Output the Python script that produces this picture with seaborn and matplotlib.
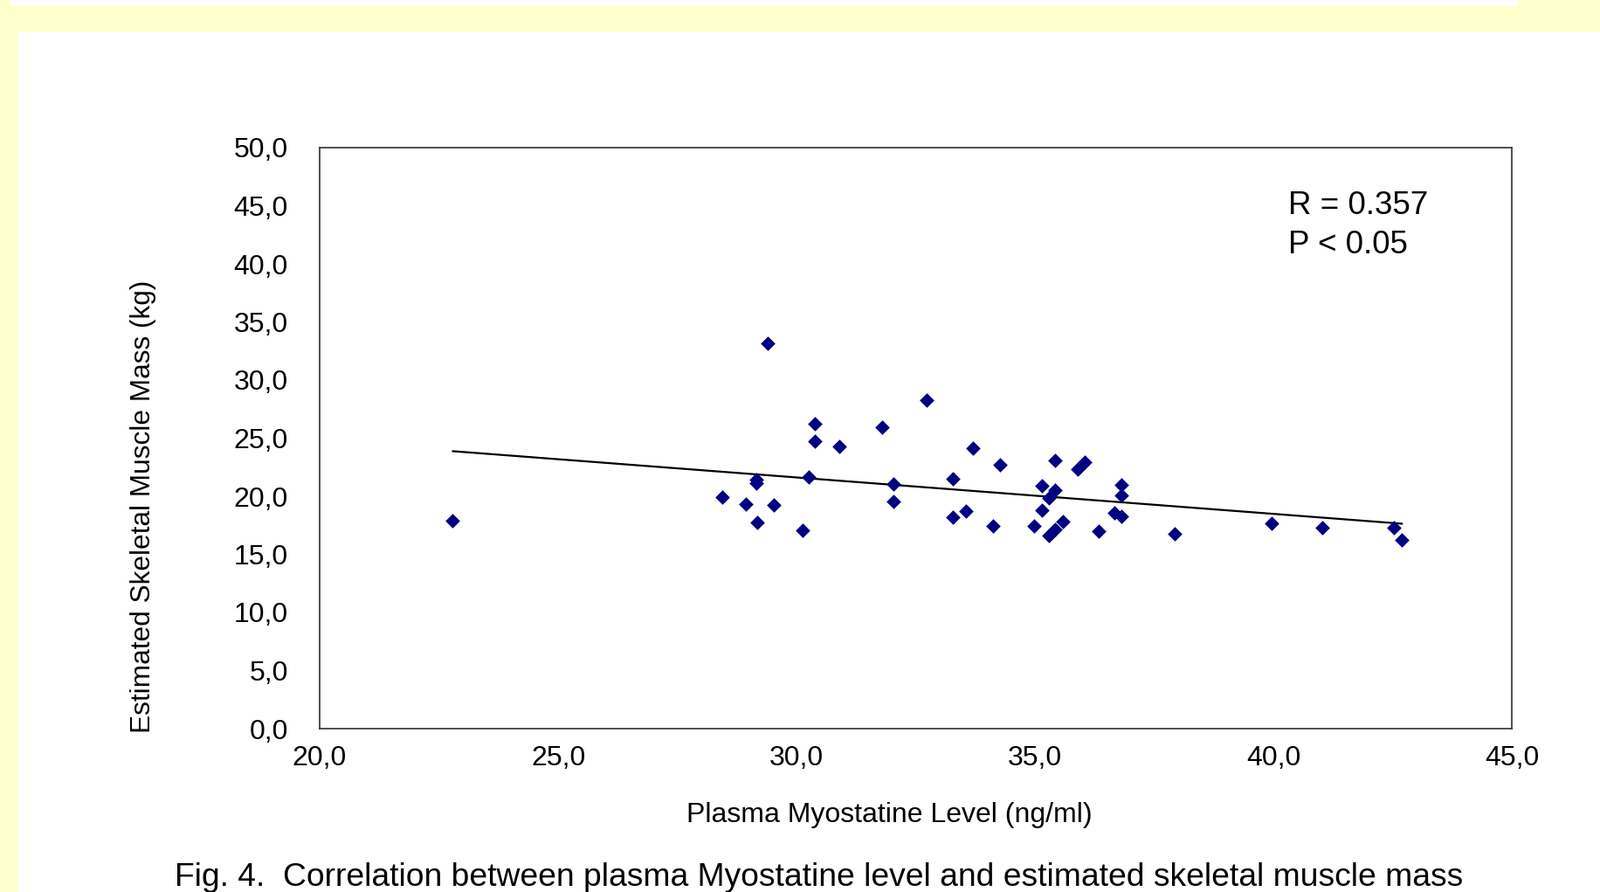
import numpy as np
import pandas as pd
import matplotlib.pyplot as plt
import seaborn as sns
from matplotlib.patches import Rectangle

# values
myostatin = [22.79, 28.45, 28.93, 29.16, 29.16, 29.17, 29.40, 29.52, 30.13, 30.26,
             30.38, 30.38, 30.89, 31.79, 32.04, 32.04, 32.73, 33.28, 33.28, 33.56,
             33.70, 34.12, 34.26, 34.99, 35.14, 35.14, 35.29, 35.29, 35.43, 35.43,
             35.43, 35.59, 35.89, 36.04, 36.34, 36.66, 36.82, 36.82, 36.82, 37.93,
             39.96, 41.03, 42.52, 42.70]
muscle_mass = [17.90, 19.90, 19.30, 21.45, 21.10, 17.75, 33.13, 19.28, 17.04, 21.67,
               26.24, 24.74, 24.31, 25.92, 21.04, 19.52, 28.30, 21.48, 18.22, 18.72,
               24.11, 17.42, 22.73, 17.45, 20.88, 18.77, 19.88, 16.62, 23.08, 20.50,
               17.18, 17.84, 22.32, 22.94, 16.96, 18.60, 21.00, 20.10, 18.29, 16.79,
               17.65, 17.29, 17.29, 16.22]

x_ticks = [20, 25, 30, 35, 40, 45]
x_tick_labels = ['20,0', '25,0', '30,0', '35,0', '40,0', '45,0']
y_ticks = [0, 5, 10, 15, 20, 25, 30, 35, 40, 45, 50]
y_tick_labels = ['0,0', '5,0', '10,0', '15,0', '20,0', '25,0', '30,0', '35,0',
                 '40,0', '45,0', '50,0']

stats_lines = ['R = 0.357', 'P < 0.05']
caption = 'Fig. 4.  Correlation between plasma Myostatine level and estimated skeletal muscle mass'

df = pd.DataFrame({'myostatin': myostatin, 'muscle': muscle_mass})

sns.set_style('white')
plt.rcParams['font.family'] = ['Liberation Sans', 'DejaVu Sans']

W, H = 1832, 1021
fig = plt.figure(figsize=(W / 100, H / 100), dpi=100, facecolor='white')

# yellow slide frame
yellow = '#FFFFCC'
fig.patches.append(Rectangle((0, H - 35), W, 35, transform=None, color=yellow, zorder=0))
fig.patches.append(Rectangle((0, 0), 19, H, transform=None, color=yellow, zorder=0))
fig.patches.append(Rectangle((12, H - 6), 1725, 6, transform=None, color='white', zorder=1))

ax = fig.add_axes([366 / W, (H - 834) / H, (1731 - 366) / W, (834 - 169) / H])

sns.regplot(data=df, x='myostatin', y='muscle', ax=ax, ci=None, truncate=True,
            marker='D',
            scatter_kws={'s': 72, 'color': '#000080', 'linewidths': 0, 'alpha': 1, 'zorder': 3},
            line_kws={'color': 'black', 'linewidth': 1.6, 'zorder': 2})

ax.set_xlim(20, 45)
ax.set_ylim(0, 50)
ax.set_xticks(x_ticks)
ax.set_xticklabels(x_tick_labels)
ax.set_yticks(y_ticks)
ax.set_yticklabels(y_tick_labels)
ax.tick_params(axis='both', direction='in', length=6, width=1, color='#404040',
               labelsize=23, labelcolor='black')
ax.tick_params(axis='x', pad=14)
ax.tick_params(axis='y', pad=26)
ax.tick_params(top=False, right=False)
for sp in ax.spines.values():
    sp.set_color('#404040')
    sp.set_linewidth(1.3)

ax.set_xlabel('Plasma Myostatine Level (ng/ml)', fontsize=23, color='black')
ax.xaxis.set_label_coords(0.478, -0.126)
ax.set_ylabel('Estimated Skeletal Muscle Mass (kg)', fontsize=22.8, color='black')
ax.yaxis.set_label_coords(-0.137, 0.382)

ax.text(0.8125, 0.8857, stats_lines[0], transform=ax.transAxes, fontsize=26.5,
        va='baseline', ha='left', color='black')
ax.text(0.8125, 0.818, stats_lines[1], transform=ax.transAxes, fontsize=26.5,
        va='baseline', ha='left', color='black')

fig.text(200 / W, (H - 1014) / H, caption, fontsize=26.8, va='baseline', ha='left',
         color='black')

fig.savefig('out.png', dpi=100, facecolor=fig.get_facecolor())
